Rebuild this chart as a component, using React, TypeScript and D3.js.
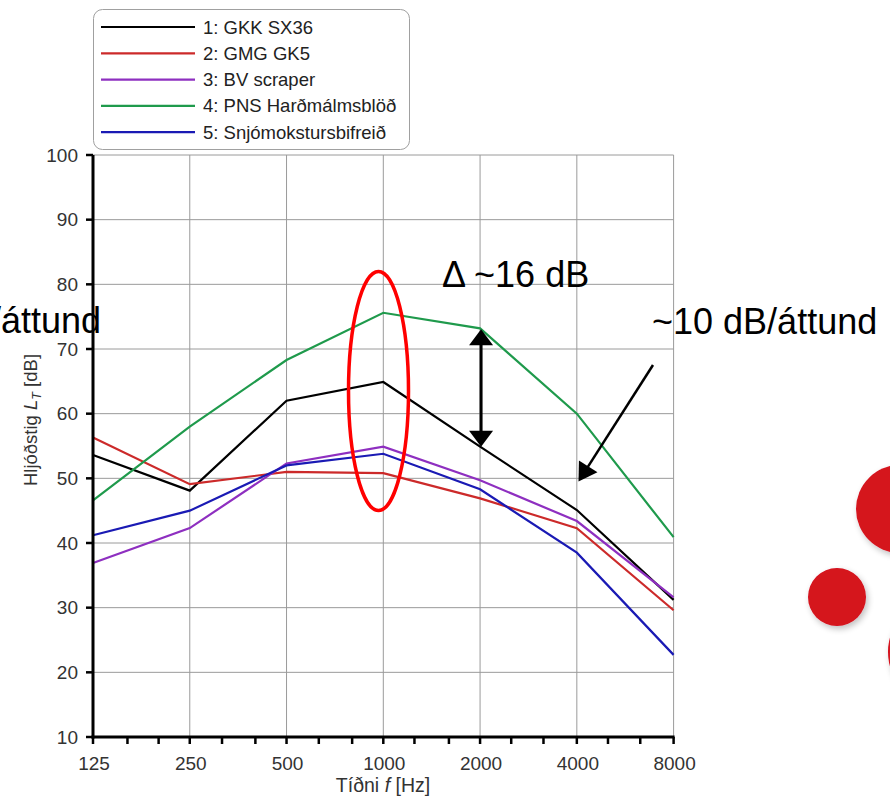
import React from "react";
import * as d3 from "d3";

const frequencies = [125, 250, 500, 1000, 2000, 4000, 8000];
const thirdOctaveTicks = [125, 160, 200, 250, 315, 400, 500, 630, 800, 1000, 1250, 1600, 2000, 2500, 3150, 4000, 5000, 6300, 8000];
const yTicks = [10, 20, 30, 40, 50, 60, 70, 80, 90, 100];

const seriesNames = ["1: GKK SX36", "2: GMG GK5", "3: BV scraper", "4: PNS Harðmálmsblöð", "5: Snjómokstursbifreið"];
const seriesColors = ["#000000", "#cc2a2a", "#8e2fc0", "#1f9a4c", "#1a1ab4"];
const gkkValues = [53.6, 48.1, 62.0, 64.9, 54.9, 45.1, 31.2];
const gmgValues = [56.3, 49.1, 51.0, 50.8, 46.9, 42.3, 29.6];
const bvValues = [36.9, 42.3, 52.3, 54.9, 49.7, 43.4, 31.6];
const pnsValues = [46.6, 58.0, 68.3, 75.6, 73.2, 60.0, 40.9];
const snjoValues = [41.2, 45.0, 52.0, 53.8, 48.3, 38.5, 22.7];
const allSeries = [gkkValues, gmgValues, bvValues, pnsValues, snjoValues];

const W = 890;
const H = 804;
const left = 93;
const right = 673.6;
const top = 155;
const bottom = 737;

export default function App() {
  const x = d3.scaleLog().base(2).domain([125, 8000]).range([left, right]);
  const y = d3.scaleLinear().domain([10, 100]).range([bottom, top]);
  const line = d3
    .line<number>()
    .x((_, i) => x(frequencies[i]))
    .y((v) => y(v));

  const font = "Arial, 'Liberation Sans', sans-serif";
  const legendRowY = (i: number) => 27 + i * 26.3;

  const arrowHead = (tipX: number, tipY: number, angle: number, len: number, w: number) => {
    const bx = tipX - Math.cos(angle) * len;
    const by = tipY - Math.sin(angle) * len;
    const px = -Math.sin(angle) * (w / 2);
    const py = Math.cos(angle) * (w / 2);
    return `M${tipX},${tipY}L${bx + px},${by + py}L${bx - px},${by - py}Z`;
  };

  const diagStart = [653, 365];
  const diagEnd = [578.5, 481.5];
  const diagAngle = Math.atan2(diagEnd[1] - diagStart[1], diagEnd[0] - diagStart[0]);

  const arrowX = x(2000) + 1;
  const arrowTop = y(73.2) + 1;
  const arrowBottom = y(54.9);

  return (
    <svg
      width={W}
      height={H}
      style={{ position: "absolute", left: 0, top: 0, background: "#fff" }}
      fontFamily={font}
    >
      <defs>
        <filter id="shadow" x="-30%" y="-30%" width="160%" height="160%">
          <feGaussianBlur in="SourceAlpha" stdDeviation="3" />
          <feOffset dx="2" dy="3" result="b" />
          <feComponentTransfer>
            <feFuncA type="linear" slope="0.25" />
          </feComponentTransfer>
          <feMerge>
            <feMergeNode />
            <feMergeNode in="SourceGraphic" />
          </feMerge>
        </filter>
      </defs>

      {/* decorative circles */}
      <g filter="url(#shadow)" fill="#d5121f">
        <circle cx={900} cy={509} r={44} />
        <circle cx={837} cy={597} r={29} />
        <circle cx={942} cy={652} r={54} />
      </g>

      {/* gridlines */}
      <g stroke="#9a9a9a" strokeWidth={1}>
        {yTicks.slice(1).map((t) => (
          <line key={"h" + t} x1={left} x2={right} y1={y(t)} y2={y(t)} />
        ))}
        {frequencies.slice(1).map((f) => (
          <line key={"v" + f} x1={x(f)} x2={x(f)} y1={top} y2={bottom} />
        ))}
      </g>

      {/* series */}
      {allSeries.map((vals, i) => (
        <path key={i} d={line(vals) || ""} fill="none" stroke={seriesColors[i]} strokeWidth={2.2} strokeLinejoin="miter" />
      ))}

      {/* axes */}
      <g stroke="#000" strokeWidth={3}>
        <line x1={left} x2={left} y1={top} y2={bottom + 1.5} />
        <line x1={left - 1.5} x2={right + 1} y1={bottom} y2={bottom} />
        {yTicks.map((t) => (
          <line key={"yt" + t} x1={left - 7} x2={left} y1={y(t)} y2={y(t)} strokeWidth={2.5} />
        ))}
        {thirdOctaveTicks.map((f) => (
          <line key={"xt" + f} x1={x(f)} x2={x(f)} y1={bottom} y2={bottom + 7} strokeWidth={2.5} />
        ))}
      </g>

      {/* tick labels */}
      <g fill="#333" fontSize={19}>
        {yTicks.map((t) => (
          <text key={"yl" + t} x={78} y={y(t)} textAnchor="end" dominantBaseline="central">
            {t}
          </text>
        ))}
        {frequencies.map((f) => (
          <text key={"xl" + f} x={x(f) + 1} y={770} textAnchor="middle">
            {f}
          </text>
        ))}
      </g>

      {/* axis titles */}
      <text x={383} y={792} textAnchor="middle" fontSize={19.5} fill="#333">
        Tíðni <tspan fontStyle="italic">f</tspan> [Hz]
      </text>
      <text transform={`translate(37,420) rotate(-90)`} textAnchor="middle" fontSize={18.5} fill="#333">
        Hljóðstig <tspan fontStyle="italic">L</tspan>
        <tspan fontStyle="italic" fontSize={12.5} dy={4}>T</tspan>
        <tspan dy={-4}> [dB]</tspan>
      </text>

      {/* legend */}
      <rect x={93.5} y={9.5} width={316} height={140} rx={9} fill="#fff" stroke="#a0a0a0" strokeWidth={1} />
      {seriesNames.map((name, i) => (
        <g key={name}>
          <line x1={101} x2={195} y1={legendRowY(i)} y2={legendRowY(i)} stroke={seriesColors[i]} strokeWidth={2.2} />
          <text x={203} y={legendRowY(i)} dominantBaseline="central" fontSize={18.5} fill="#222">
            {name}
          </text>
        </g>
      ))}

      {/* annotations */}
      <ellipse cx={378.5} cy={391} rx={30} ry={119.5} fill="none" stroke="#ff0000" strokeWidth={3.5} />

      <g fill="#000" stroke="none">
        <line x1={arrowX} x2={arrowX} y1={arrowTop + 12} y2={arrowBottom - 12} stroke="#000" strokeWidth={3} />
        <path d={arrowHead(arrowX, arrowTop, -Math.PI / 2, 16, 24)} />
        <path d={arrowHead(arrowX, arrowBottom, Math.PI / 2, 16, 24)} />
        <line
          x1={diagStart[0]}
          y1={diagStart[1]}
          x2={diagEnd[0] - Math.cos(diagAngle) * 12}
          y2={diagEnd[1] - Math.sin(diagAngle) * 12}
          stroke="#000"
          strokeWidth={2.5}
        />
        <path d={arrowHead(diagEnd[0], diagEnd[1], diagAngle, 18, 22)} />
      </g>

      <text x={442} y={287} fontSize={36} fill="#000">
        Δ ~16 dB
      </text>
      <text x={652} y={334} fontSize={36} fill="#000">
        ~10 dB/áttund
      </text>
      <text x={101} y={333} fontSize={36} fill="#000" textAnchor="end">
        ~10 dB/áttund
      </text>
    </svg>
  );
}
